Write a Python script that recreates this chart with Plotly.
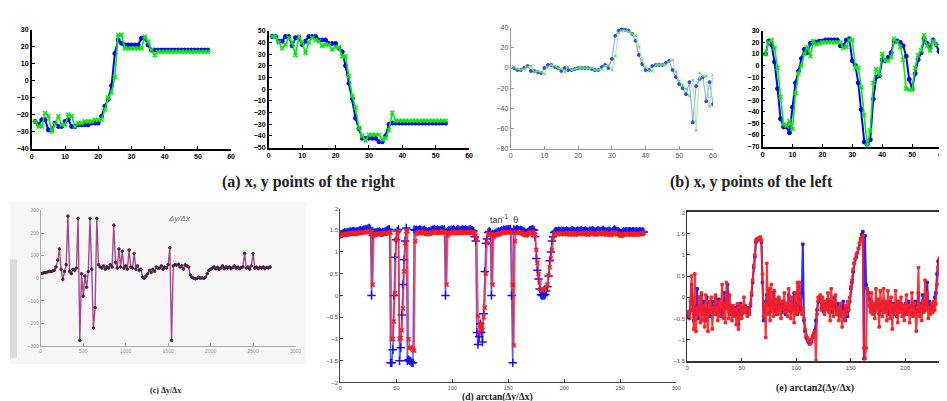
import plotly.graph_objects as go

# ---------------- data ----------------
# (a) x, y points of the right
a1_blue = [-24,-26,-23,-23,-29,-29,-25,-27,-27,-24, -23,-27,-27,-26,-26,-26,-26,-25,-25,-25,
           -21,-15,-11,-3,16,24,22,21,21,21, 21,21,25,25,21,18,
           18,18,18,18,18,18,18,18,18,18,18,18,18,18,18,18,18]
a1_green = [-24,-27,-27,-19,-21,-30,-26,-21,-26,-26, -20,-21,-27,-25,-25,-24,-24,-24,-23,-23,
            -23,-17,-10,-7,2,27,27,19,19,19, 19,19,19,26,23,18,15,17,
            17,17,17,17,17,17,17,17,17,17,17,17,17,17,17]
a2_blue = [45,45,41,41,45,45,37,44,44,38, 41,45,45,45,42,42,42,39,39,39,
           35,32,20,5,-8,-25,-34,-42,-42,-42, -42,-42,-45,-45,-40,-30,
           -29,-29,-29,-29,-29,-29,-29,-29,-29,-29,-29,-29,-29,-29,-29,-29,-29]
a2_green = [45,45,40,35,38,44,40,29,45,40, 31,40,44,42,41,37,38,38,34,36,
            36,28,28,11,-6,-16,-33,-40,-44,-39, -39,-39,-39,-43,-42,-35,-20,-27,
            -27,-27,-27,-27,-27,-27,-27,-27,-27,-27,-27,-27,-27,-27,-27]

# (b) x, y points of the left
b1_blue = [0,-2,-2,0,2,-3,-3,-4,-5,0, 3,3,1,0,-3,0,-2,-2,-1,0,
           0,0,0,-1,-2,-2,1,3,0,9, 32,37,39,38,37,34,27,13,4,-2,
           -2,2,3,3,3,5,7,-2,-9,-16, -20,-26,-14,-54,-18,-11,-9,-33,-14,-36]
b1_green = [1,-1,-2,-1,1,2,-4,-3,-4,-6, 1,3,2,0,-1,-4,1,-2,-1,0,
            0,0,0,0,-2,-2,-1,2,3,-2, 12,35,37,37,36,34,32,21,8,1,
            -3,-3,3,3,3,3,6,8,-4,-13, -17,-21,-28,-12,-62,-5,-8,-8,-38,-7]
b2_blue = [10,21,18,3,-20,-46,-53,-53,-58,-36, -15,-5,6,14,11,19,20,20,21,21,
           22,22,22,22,22,17,17,22,23,4, 0,-15,-38,-66,-68,-64,-29,-10,-9,5,
           4,7,11,21,21,20,17,8,-12,-20, -7,5,11,23,19,15,22,18,12]
b2_green = [10,20,22,15,-2,-27,-51,-52,-48,-55, -24,-7,0,10,16,8,21,18,19,20,
            20,20,20,20,20,20,15,16,22,22, -2,-2,-19,-43,-69,-56,-15,-3,-8,10,
            4,4,7,23,20,16,5,-20,-21,-21, -2,9,13,26,17,13,21,18]

# (c) dy/dx
c_step = 20
c_vals = [20,22,25,25,28,30,30,32,35,50, 80,130,40,-5,30,60,275,30,20,40,
          35,45,265,-275,20,-80,10,-40,30,265, 40,-220,-130,265,60,50,45,55,40,50,
          45,60,50,235,70,45,130,50,120,45, 55,40,125,50,45,110,40,55,35,40,
          5,0,10,20,35,25,40,30,50,45, 45,55,40,50,45,60,135,-275,55,60,
          58,62,50,55,40,60,55,50,15,5, 0,-2,0,5,0,2,0,5,20,35,
          40,45,50,42,48,40,45,55,42,50, 45,50,42,48,55,45,50,42,48,50,
          110,45,50,40,55,110,45,50,42,48, 45,50,42,48,45,50]
c_xticks = [0, 500, 1000, 1500, 2000, 2500, 3000]
c_yticks = [-300, -200, -100, 0, 100, 200, 300]

# (d) arctan(dy/dx)
d_blue = [1.40,1.41,1.42,1.44,1.45,1.44,1.45,1.46,1.45,1.47,
          1.46,1.47,1.48,1.47,1.46,1.48,1.47,1.49,1.50,1.48,
          1.50,1.52,1.51,1.53,1.52,1.54,1.55,1.52,0.00,1.38,
          1.42,1.45,1.44,1.46,1.45,1.47,1.45,1.44,1.46,1.45,
          1.47,1.48,1.50,1.52,1.52,-1.55,-1.55,-1.25,0.00,0.88,
          1.28,1.48,1.52,-1.50,-1.20,-0.45,0.25,0.82,1.25,1.55,
          -1.50,-1.48,-1.50,-1.52,-1.55,-1.55,1.52,1.50,1.51,1.49,
          1.50,1.52,1.50,1.48,1.50,1.51,1.49,1.47,1.46,1.48,
          1.47,1.49,1.50,1.52,1.53,1.51,1.50,1.52,1.50,1.49,
          1.51,1.52,1.50,1.52,0.00,1.45,1.48,1.50,1.49,1.51,
          1.50,1.52,1.50,1.48,1.50,1.52,1.51,1.49,1.50,1.52,
          1.51,1.50,1.52,1.50,1.49,1.51,1.52,1.50,1.50,1.48,
          1.35,1.25,-0.85,-1.13,-0.95,-0.65,-0.85,-1.07,-0.42,0.55,
          1.20,1.30,1.45,1.47,1.45,0.00,1.42,1.40,1.42,1.44,
          1.45,1.47,1.46,1.48,1.50,1.49,1.51,1.50,1.52,1.51,
          1.52,1.52,1.53,0.00,-1.55,1.52,1.50,1.51,1.52,1.50,
          1.49,1.51,1.50,1.48,1.47,1.45,1.43,1.45,1.47,1.50,
          1.50,1.52,1.52,1.50,1.35,0.85,0.58,0.38,0.15,0.02,
          0.00,0.00,0.00,0.02,0.10,0.20,0.45,0.80,1.00,1.25,
          1.35,1.45,1.47,1.48,1.47,1.49,1.48,1.47,1.49,1.48,
          1.47,1.48,1.50,1.48,1.47,1.46,1.48,1.50,1.49,1.47,
          1.46,1.48,1.49,1.47,1.48,1.50,1.48,1.47,1.49,1.50,
          1.48,1.46,1.47,1.49,1.48,1.50,1.49,1.47,1.46,1.48,
          1.50,1.49,1.47,1.48,1.50,1.51,1.48,1.47,1.46,1.48,
          1.49,1.47,1.45,1.48,1.50,1.52,1.49,1.47,1.48,1.46,
          1.44,1.43,1.45,1.47,1.46,1.48,1.47,1.46,1.48,1.47,
          1.46,1.48,1.47,1.46,1.48,1.47,1.46,1.48,1.47,1.46,
          1.47,1.46]
d_red = [1.38,1.39,1.40,1.40,1.41,1.40,1.42,1.41,1.42,1.43,
         1.42,1.43,1.44,1.42,1.43,1.44,1.43,1.44,1.45,1.44,
         1.45,1.46,1.45,1.46,1.47,1.46,1.48,1.47,1.45,0.25,
         1.38,1.40,1.41,1.42,1.41,1.42,1.43,1.41,1.42,1.43,
         1.42,1.43,1.44,1.45,1.45,1.45,-1.00,-1.00,-0.60,0.05,
         1.28,1.45,1.48,-1.00,-0.98,-0.80,-0.30,0.55,1.20,1.48,
         1.48,-1.00,-1.20,-1.20,-1.22,-1.25,-1.27,1.25,1.42,1.44,
         1.45,1.44,1.46,1.44,1.43,1.45,1.44,1.42,1.41,1.43,
         1.42,1.44,1.45,1.46,1.47,1.45,1.44,1.46,1.45,1.44,
         1.45,1.46,1.45,1.46,1.45,0.25,1.38,1.42,1.44,1.45,
         1.44,1.46,1.45,1.43,1.44,1.46,1.45,1.44,1.45,1.46,
         1.45,1.44,1.46,1.45,1.43,1.45,1.46,1.44,1.45,1.45,
         1.42,1.38,1.30,-0.47,-0.85,-0.65,-0.70,-0.80,-0.50,-0.28,
         0.50,1.20,1.42,1.42,1.40,1.40,0.25,1.35,1.40,1.38,
         1.40,1.42,1.41,1.43,1.44,1.45,1.44,1.46,1.45,1.46,
         1.45,1.46,1.45,1.45,0.25,-1.15,1.25,1.45,1.44,1.45,
         1.44,1.45,1.44,1.42,1.41,1.40,1.38,1.40,1.42,1.44,
         1.45,1.45,1.45,1.42,1.40,1.05,0.75,0.50,0.30,0.15,
         0.12,0.12,0.13,0.15,0.20,0.25,0.47,0.65,0.85,1.05,
         1.30,1.40,1.43,1.42,1.41,1.43,1.42,1.41,1.43,1.42,
         1.41,1.42,1.44,1.42,1.41,1.40,1.42,1.44,1.43,1.41,
         1.40,1.42,1.43,1.41,1.42,1.44,1.42,1.41,1.43,1.44,
         1.42,1.40,1.41,1.43,1.42,1.44,1.43,1.41,1.40,1.42,
         1.44,1.43,1.41,1.42,1.44,1.45,1.42,1.41,1.40,1.42,
         1.43,1.41,1.39,1.42,1.44,1.45,1.43,1.41,1.42,1.40,
         1.38,1.37,1.39,1.41,1.40,1.42,1.41,1.40,1.42,1.41,
         1.40,1.42,1.41,1.40,1.42,1.41,1.40,1.42,1.41,1.43,
         1.42,1.44]

# (e) arctan2(dy/dx)
e_blue = [-0.35,-0.45,-0.50,-0.30,0.30,-0.10,-0.55,-0.20,-0.40,0.20,
          -0.50,-0.20,-0.35,0.05,-0.40,-0.10,-0.30,-0.55,0.00,-0.35,
          -0.20,-0.45,-0.30,-0.10,-0.35,-0.25,0.00,-0.40,-0.20,-0.05,
          -0.30,-0.45,-0.15,-0.35,0.10,-0.25,-0.10,0.30,-0.20,-0.40,
          -0.30,-0.20,-0.45,-0.35,-0.25,-0.40,-0.20,-0.65,-0.30,-0.15,
          -0.40,-0.25,-0.35,-0.20,-0.30,-0.40,-0.25,-0.35,-0.20,0.05,
          0.35,0.70,0.95,1.30,1.35,1.38,1.40,1.38,1.30,0.35,
          -0.55,-0.30,-0.10,0.05,-0.20,0.15,-0.35,-0.10,-0.25,0.10,
          -0.30,-0.15,-0.40,-0.20,-0.05,-0.30,-0.15,-0.35,-0.10,-0.25,
          -0.40,-0.15,-0.30,0.05,-0.20,-0.35,-0.10,-0.25,0.10,-0.30,
          -0.15,-0.40,0.25,-0.20,-0.30,0.10,1.25,-0.55,-0.80,-0.95,
          -1.00,-1.05,-1.10,-1.08,-1.05,-0.95,-0.85,-0.78,-0.55,-0.30,
          -0.10,0.00,-0.05,-0.25,-0.15,-0.35,-0.10,-0.25,-0.15,-0.05,
          -0.30,-0.20,-0.10,-0.35,-0.20,0.00,-0.25,-0.40,-0.15,-0.30,
          -0.45,-0.20,-0.35,-0.10,-0.40,-0.55,-0.25,-0.45,-0.30,-0.10,
          0.20,0.35,0.60,0.80,0.90,0.95,1.05,1.15,1.25,1.38,
          1.48,1.55,-1.45,1.45,0.30,0.20,0.10,-0.05,-0.25,-0.10,
          -0.30,-0.15,-0.35,-0.20,-0.05,-0.25,-0.40,-0.15,-0.30,-0.10,
          -0.25,-0.35,-0.15,-0.30,-0.20,-0.40,-0.10,-0.25,-0.35,-0.15,
          -0.30,-0.20,-0.45,-0.10,-0.25,-0.35,-0.15,-0.30,-0.20,-0.40,
          -0.15,-0.25,-0.35,-0.10,-0.30,-0.20,-0.40,-0.15,-0.25,-0.10,
          -0.30,-0.20,0.10,-0.35,-0.15,-0.25,0.05,-0.30,-0.10,-0.20,
          0.35,-0.25,-0.10,-0.30,-0.15,-0.35,-0.20,0.00,0.10,0.55,
          0.85,0.88,0.92,0.95,0.98,0.97,0.96,1.00,0.98,0.95,
          0.97,1.00]
e_red = [-0.40,-0.35,-0.50,-0.10,0.50,-0.30,-0.75,0.55,-0.80,-0.25,
         -0.40,0.00,-0.60,0.10,-0.55,-0.20,-0.70,0.05,-0.45,-0.80,
         -0.10,-0.35,0.00,-0.75,-0.25,-0.40,0.05,-0.30,-0.55,-0.10,
         -0.45,-0.20,0.30,-0.50,-0.15,-0.60,0.35,-0.25,-0.50,0.05,
         -0.35,-0.55,-0.20,-0.45,-0.30,-0.65,-0.15,-0.75,-0.40,-0.20,
         -0.50,-0.30,0.00,-0.35,-0.25,-0.45,-0.30,-0.40,-0.15,0.10,
         0.40,0.75,1.00,1.35,1.38,1.35,1.40,1.42,1.35,0.55,
         -0.45,-0.20,-0.95,0.80,-0.40,0.20,-0.55,0.30,-0.25,-0.45,
         0.15,-0.35,-0.05,-0.40,0.00,-0.30,-0.50,-0.10,-0.25,0.10,
         -0.35,-0.15,-0.45,0.20,-0.25,-0.50,0.00,-0.30,-0.60,0.10,
         -0.40,0.35,-0.35,0.35,-0.15,-0.40,-0.25,-0.50,-0.75,-0.90,
         -0.95,-1.00,-1.05,-1.10,-1.00,-0.90,-0.85,-0.80,-1.50,-0.40,
         0.00,-0.05,0.05,-0.30,0.00,-0.20,-0.40,-0.10,-0.30,0.10,
         -0.35,-0.55,0.20,-0.25,-0.45,-0.10,0.05,-0.40,-0.25,-0.55,
         -0.30,-0.15,-0.70,-0.35,-0.55,-0.20,-0.40,-0.10,-0.30,0.00,
         0.25,0.40,0.65,0.80,0.90,1.00,1.05,1.15,1.28,1.35,
         1.40,1.45,-1.20,-1.45,-1.20,0.20,0.05,-0.20,-0.35,0.10,
         -0.40,-0.15,-0.50,0.20,-0.30,-0.05,-0.70,0.15,-0.25,-0.45,
         0.20,-0.35,-0.10,-0.55,0.15,-0.25,-0.50,0.00,-0.75,-0.20,
         -0.40,0.15,-0.30,-0.60,-0.10,-0.35,0.00,-0.45,-0.20,-0.55,
         -0.25,0.05,-0.40,-0.20,-0.60,-0.30,0.10,-0.45,-0.15,-0.35,
         -0.80,-0.25,0.70,-0.45,-0.20,-0.55,-0.10,-0.35,0.40,-0.30,
         0.10,-0.50,-0.25,-0.40,-0.15,-0.35,-0.10,-0.30,-0.15,0.30,
         0.70,0.90,0.95,0.90,1.00,0.95,1.00,1.10,0.95,1.00,
         0.95,0.98]

captions = ["(a) x, y points of the right", "(b) x, y points of the left",
            "(c) \u0394y/\u0394x", "(d) arctan(\u0394y/\u0394x)", "(e) arctan2(\u0394y/\u0394x)"]

# ---------------- figure ----------------
W, H = 947, 401
def X(px): return px / W
def Y(py): return 1 - py / H

fig = go.Figure()

def add(x, y, n, color, width, sym, size, lcolor=None, mline=1):
    fig.add_trace(go.Scatter(
        x=x, y=y, xaxis="x" + ("" if n == 1 else str(n)), yaxis="y" + ("" if n == 1 else str(n)),
        mode="lines+markers",
        line=dict(color=lcolor or color, width=width),
        marker=dict(symbol=sym, size=size, color=color, line=dict(width=mline, color=color)),
        showlegend=False, hoverinfo="skip"))

def idx(v, start=1):
    return list(range(start, start + len(v)))

add(idx(a1_blue), a1_blue, 1, "#0000ff", 2, "circle", 4)
add(idx(a1_green), a1_green, 1, "#00ee00", 1.6, "x-thin", 4, mline=1.5)
add(idx(a2_blue), a2_blue, 2, "#0000ff", 2, "circle", 4)
add(idx(a2_green), a2_green, 2, "#00ee00", 1.6, "x-thin", 4, mline=1.5)
add(idx(b1_blue), b1_blue, 3, "#3347e6", 1, "circle", 3, lcolor="#8d9cf5")
add(idx(b1_green), b1_green, 3, "#4fe04f", 1, "x-thin", 3, lcolor="#9ef09e", mline=1)
add(idx(b2_blue), b2_blue, 4, "#0000ff", 2, "circle", 4)
add(idx(b2_green), b2_green, 4, "#00ee00", 1.6, "x-thin", 4, mline=1.5)

c_x = [i * c_step for i in range(len(c_vals))]
add(c_x, c_vals, 5, "#4a1f44", 1.4, "circle", 2.5, lcolor="#a8468f")

add(idx(d_blue, 0), d_blue, 6, "#1010ff", 1.6, "cross-thin", 6, lcolor="rgba(40,40,255,0.75)", mline=1.5)
add(idx(d_red, 0), d_red, 6, "#ff1a1a", 1.6, "x-thin", 4, lcolor="rgba(255,40,40,0.8)", mline=1.5)

add(idx(e_blue, 0), e_blue, 7, "#1a1aff", 2, "square", 2.5, lcolor="#2a2aff")
add(idx(e_red, 0), e_red, 7, "#ff2020", 2, "square", 2.5, lcolor="rgba(255,30,30,0.9)")

def axis(d0, d1, rng, dtick, anchor, font, lc="#000", lw=1.5, mirror=False, **kw):
    a = dict(domain=[d0, d1], range=rng, anchor=anchor,
             showline=True, linecolor=lc, linewidth=lw, showgrid=False, zeroline=False,
             ticks="inside", ticklen=3, tickcolor=lc, tickfont=font, mirror=mirror)
    if dtick is not None:
        a.update(dtick=dtick, tick0=0)
    a.update(kw)
    return a

bold = dict(family="Arial, Liberation Sans", size=7, color="#000", weight="bold")
thin = dict(family="Arial, Liberation Sans", size=7, color="#555")

lay = dict(width=W, height=H, margin=dict(l=0, r=0, t=0, b=0),
           paper_bgcolor="white", plot_bgcolor="rgba(0,0,0,0)", showlegend=False)

lay["xaxis"] = axis(X(22), X(223), [0, 60], 10, "y", bold)
lay["yaxis"] = axis(Y(139), Y(18), [-40, 30], 10, "x", bold)
lay["xaxis2"] = axis(X(261), X(463), [0, 60], 10, "y2", bold)
lay["yaxis2"] = axis(Y(138), Y(19), [-50, 50], 10, "x2", bold)
lay["xaxis3"] = axis(X(505), X(709), [0, 60], 10, "y3", thin, lc="#999", lw=1)
lay["yaxis3"] = axis(Y(139), Y(16), [-80, 40], 20, "x3", thin, lc="#999", lw=1)
lay["xaxis4"] = axis(X(759), X(940), [0, 60], 10, "y4", bold)
lay["yaxis4"] = axis(Y(137), Y(19), [-70, 30], 10, "x4", bold)

cfont = dict(family="Arial, Liberation Sans", size=5, color="#999")
lay["xaxis5"] = axis(X(31), X(288), [0, 3000], None, "y5", cfont, lc="#aaa", lw=1,
                     tickmode="array", tickvals=c_xticks)
lay["yaxis5"] = axis(Y(340), Y(202), [-300, 300], None, "x5", cfont, lc="#aaa", lw=1,
                     tickmode="array", tickvals=c_yticks)

dfont = dict(family="Arial, Liberation Sans", size=5.5, color="#555")
lay["xaxis6"] = axis(X(333), X(672), [0, 300], 50, "y6", dfont, lc="#444", lw=1)
lay["yaxis6"] = axis(Y(377), Y(200), [-2, 2], 0.5, "x6", dict(dfont, size=6), lc="#444", lw=1)

efont = dict(family="Arial, Liberation Sans", size=6, color="#555")
lay["xaxis7"] = axis(X(683), 1.0, [0, 240], 50, "y7", efont, lc="#333", lw=1.5, mirror=True)
lay["yaxis7"] = axis(Y(355), Y(204), [-1.5, 2], 0.5, "x7", efont, lc="#333", lw=1)

lay["shapes"] = [
    dict(type="rect", xref="paper", yref="paper", x0=0, x1=X(298), y0=Y(358), y1=Y(193),
         fillcolor="#f6f6f6", line=dict(width=0), layer="below"),
    dict(type="rect", xref="paper", yref="paper", x0=0, x1=X(7), y0=Y(352), y1=Y(252),
         fillcolor="#dcdcdc", line=dict(width=0), layer="below"),
]

serif = "Liberation Serif, Times New Roman, serif"
def cap(text, cx, cy, size):
    return dict(text=text, x=X(cx), y=Y(cy), xref="paper", yref="paper", showarrow=False,
                xanchor="center", yanchor="middle", borderpad=0,
                font=dict(family=serif, size=size, color="#222", weight="bold"))

lay["annotations"] = [
    cap(captions[0], 302, 173, 16),
    cap(captions[1], 748, 173, 16),
    cap(captions[2], 157, 385, 8),
    cap(captions[3], 492, 392, 9.5),
    cap(captions[4], 812, 383, 10),
    dict(text="tan<sup>-1</sup>  \u03b8", x=X(498), y=Y(211), xref="paper", yref="paper",
         showarrow=False, font=dict(family="Arial, Liberation Sans", size=9, color="#333")),
    dict(text="<i>\u0394y/\u0394x</i>", x=X(157), y=Y(210), xref="paper", yref="paper",
         showarrow=False, font=dict(family="Arial, Liberation Sans", size=8, color="#777")),
]

fig.update_layout(**lay)
fig.write_html("out.html")
